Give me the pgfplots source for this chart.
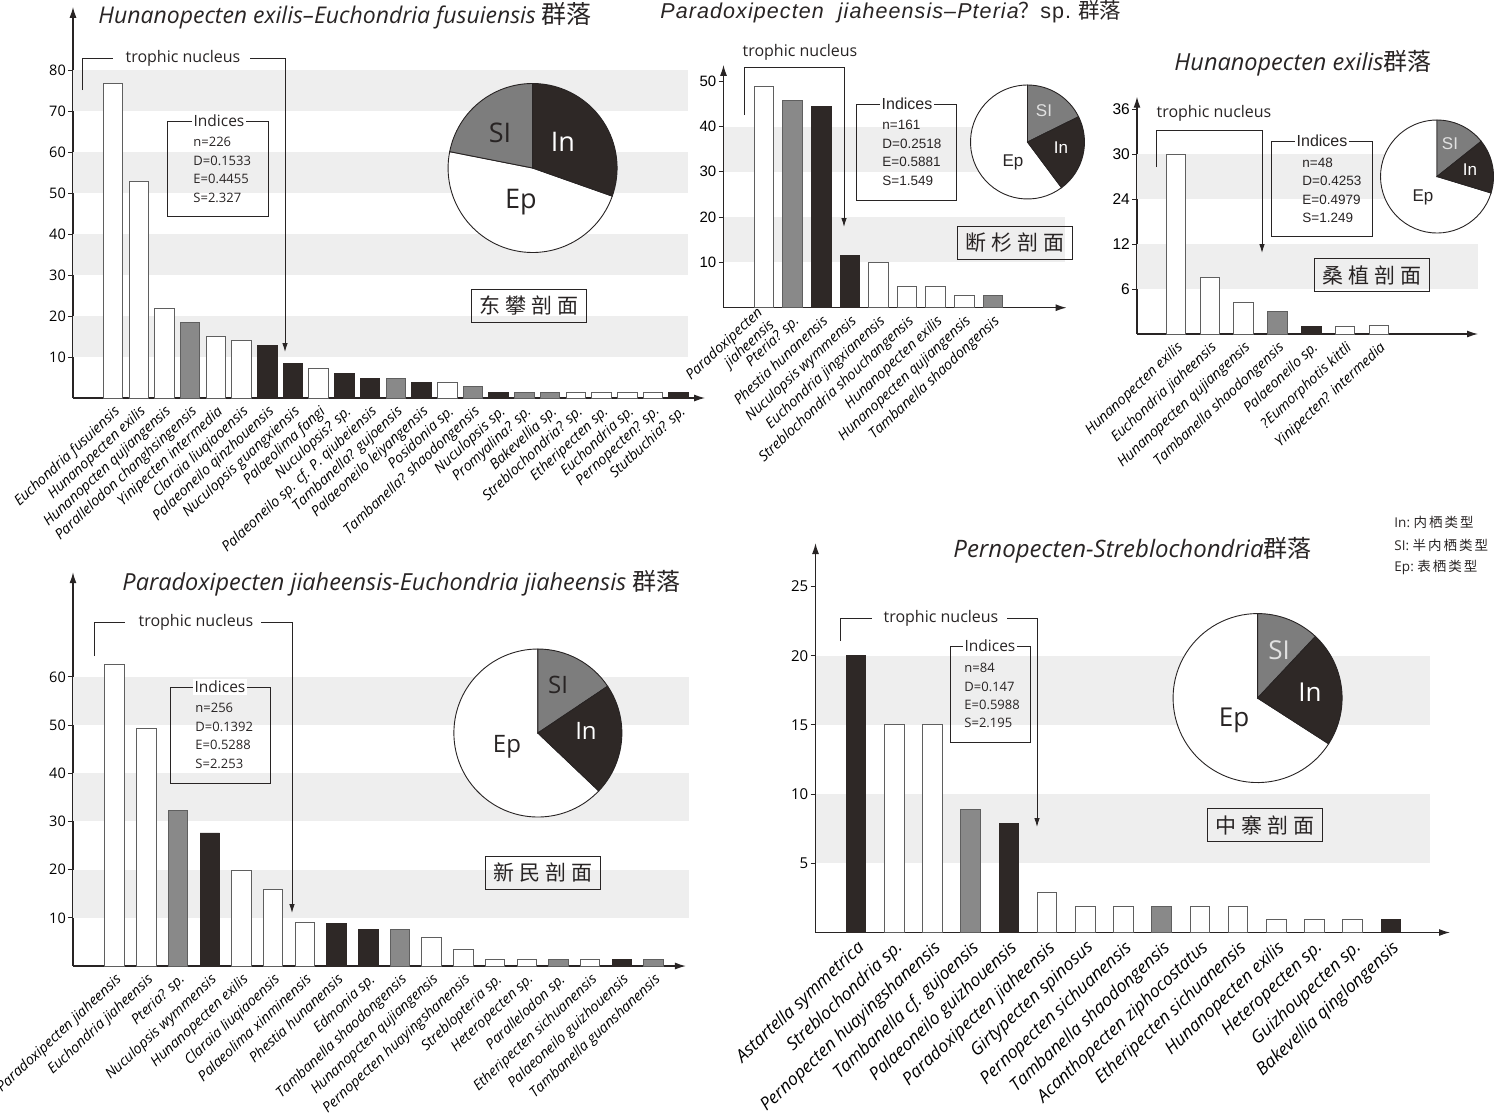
\documentclass[border=0pt]{standalone}
\usepackage{fontspec}
\setmainfont{Open Sans}
\newfontfamily\lib{Liberation Sans}
\newfontfamily\libsp{Liberation Sans}[LetterSpace=5]
\newfontfamily\cjk{Noto Sans CJK SC}
\usepackage{pgfplots}
\pgfplotsset{compat=1.18}
\usetikzlibrary{arrows.meta}

\definecolor{band}{RGB}{238,238,238}
\definecolor{bgray}{RGB}{137,137,137}
\definecolor{bblack}{RGB}{46,40,38}
\definecolor{pgray}{RGB}{125,125,125}
\definecolor{lineblk}{RGB}{40,36,36}
\definecolor{edge}{RGB}{95,95,95}
\definecolor{silight}{RGB}{225,225,225}

\newcommand{\fs}[1]{\fontsize{#1}{#1}\selectfont}
% pie slice: centre, radius, start angle, end angle, fill
\newcommand{\slice}[5]{\filldraw[fill=#5, draw=lineblk, line width=0.9pt] #1 -- ++({#3}:#2) arc[start angle={#3}, end angle={#4}, radius=#2] -- cycle;}
% SI then In clockwise from 12 o'clock
\newcommand{\pieA}[4]{%
  \slice{#1}{#2}{90-3.6*(#3+#4)}{-270}{white}
  \slice{#1}{#2}{90}{90-3.6*(#3)}{pgray}
  \slice{#1}{#2}{90-3.6*(#3)}{90-3.6*(#3+#4)}{bblack}}
% SI counter-clockwise, In clockwise from 12 o'clock
\newcommand{\pieB}[4]{%
  \slice{#1}{#2}{90+3.6*(#3)}{450-3.6*(#4)}{white}
  \slice{#1}{#2}{90}{90+3.6*(#3)}{pgray}
  \slice{#1}{#2}{90}{90-3.6*(#4)}{bblack}}

\pgfplotsset{
  panel/.style={
    anchor=south west, clip=false, ymin=0,
    axis lines*=left,
    axis line style={line width=1.2pt, draw=lineblk, -{Latex[length=11pt,width=7pt]}},
    tick align=outside, major tick length=5pt,
    ytick style={line width=0.9pt, draw=lineblk},
    xtick style={draw=none},
    /pgf/number format/assume math mode=true,
    xticklabel style={rotate=43, anchor=north east, inner sep=1pt, font=\itshape\fs{14.3}},
    yticklabel style={inner sep=2pt},
  },
  wbar/.style={ybar, bar shift=0pt, bar width=19.5pt, fill=white, draw=edge, line width=0.9pt},
  gbar/.style={ybar, bar shift=0pt, bar width=19.5pt, fill=bgray, draw=edge, line width=0.9pt},
  kbar/.style={ybar, bar shift=0pt, bar width=19.5pt, fill=bblack, draw=bblack, line width=0.9pt},
}

\begin{document}
\begin{tikzpicture}
\useasboundingbox (0pt,0pt) rectangle (1496pt,-1112pt);

% ---------- panel 1: Dongpan ----------
\begin{axis}[panel, at={(73pt,-398pt)},
  x=25.71pt, y=4.1pt, xmin=-0.556, xmax=24.03, ymax=95.4,
  ytick={10,20,...,80}, yticklabel style={font=\fs{14.5}},
  xtick={1,...,23},
  xticklabels={Euchondria fusuiensis, Hunanopecten exilis, Hunanopcten qujiangensis,
    Parallelodon changhsingensis, Yinipecten intermedia, Claraia liuqiaoensis,
    Palaeoneilo qinzhouensis, Nuculopsis guangxiensis, Palaeolima fangi, Nuculopsis? sp.,
    Palaeoneilo sp. cf. P. qiubeiensis, Tambanella? gujoensis, Palaeoneilo leiyangensis,
    Posidonia sp., Tambanella? shaodongensis, Nuculopsis sp., Promyalina? sp.,
    Bakevellia sp., Streblochondria? sp., Etheripecten sp., Euchondria sp.,
    Pernopecten? sp., Stutbuchia? sp.},
]
\fill[band] (axis cs:-0.556,10) rectangle (axis cs:23.37,20);
\fill[band] (axis cs:-0.556,30) rectangle (axis cs:23.37,40);
\fill[band] (axis cs:-0.556,50) rectangle (axis cs:23.37,60);
\fill[band] (axis cs:-0.556,70) rectangle (axis cs:23.37,80);
\addplot[wbar] coordinates {(1,76.8) (2,52.9) (3,21.9) (5,15.1) (6,14.1) (9,7.2) (14,3.8) (19,1.3) (20,1.3) (21,1.3) (22,1.3)};
\addplot[gbar] coordinates {(4,18.5) (12,4.8) (15,2.7) (17,1.3) (18,1.3)};
\addplot[kbar] coordinates {(7,12.8) (8,8.4) (10,6.0) (11,4.8) (13,3.8) (16,1.3) (23,1.3)};
\pieB{(axis cs:17.32,56.1)}{84.5pt}{21.9}{30.4}
\end{axis}

% ---------- panel 2: Duanshan ----------
\begin{axis}[panel, at={(723.5pt,-307.7pt)},
  x=28.6pt, y=4.53pt, xmin=-0.416, xmax=11.58, ymax=53.6,
  ytick={10,20,...,50}, yticklabel style={font=\lib\fs{15}},
  xtick={1,...,9},
  xticklabels={{\smash{\raisebox{-16pt}{\fontsize{14.3}{17}\selectfont\begin{tabular}[b]{@{}r@{}}Paradoxipecten\\jiaheensis\end{tabular}}}},
    Pteria? sp., Phestia hunanensis,
    Nuculopsis wymmensis, Euchondria jingxianensis, Streblochondria shouchangensis,
    Hunanopecten exilis, Hunanopecten qujiangensis, Tambanella shaodongensis},
]
\fill[band] (axis cs:-0.416,10) rectangle (axis cs:11.52,20);
\fill[band] (axis cs:-0.416,30) rectangle (axis cs:11.52,40);
\addplot[wbar] coordinates {(1,48.9) (5,10.0) (6,4.7) (7,4.7) (8,2.6)};
\addplot[gbar] coordinates {(2,45.7) (9,2.7)};
\addplot[kbar] coordinates {(3,44.5) (4,11.5)};
\pieA{(axis cs:10.213,36.58)}{57pt}{17.7}{22.1}
\end{axis}

% ---------- panel 3: Sangzhi (broken scale) ----------
\begin{axis}[panel, at={(1137pt,-334pt)},
  x=33.8pt, y=7.5pt, xmin=-0.154, xmax=9.935, ymax=31.64,
  y filter/.expression={y<=12 ? y : (y<=24 ? 12+(y-12)/2 : y-6)},
  ytick={6,12,18,24,30}, yticklabels={6,12,24,30,36},
  yticklabel style={font=\lib\fs{15.5}},
  xtick={1,...,7},
  xticklabels={Hunanopecten exilis, Euchondria jiaheensis, Hunanopecten qujiangensis,
    Tambanella shaodongensis, Palaeoneilo sp., ?Eumorphotis kittli, Yinipecten? intermedia},
]
\fill[band] (rel axis cs:0,0.1896) rectangle (rel axis cs:1,0.3793);
\fill[band] (rel axis cs:0,0.5689) rectangle (rel axis cs:1,0.7585);
\addplot[wbar] coordinates {(1,30) (2,7.6) (3,4.27) (6,1.02) (7,1.15)};
\addplot[gbar] coordinates {(4,2.98)};
\addplot[kbar] coordinates {(5,0.98)};
\pieA{(rel axis cs:0.8798,0.6637)}{56.5pt}{14.3}{15.4}
\end{axis}

% ---------- panel 4: Xinmin ----------
\begin{axis}[panel, at={(73pt,-966pt)},
  x=31.7pt, y=4.82pt, xmin=-0.315, xmax=19.02, ymax=81.7,
  ytick={10,20,...,60}, yticklabel style={font=\fs{14.5}},
  xtick={1,...,18},
  xticklabels={Paradoxipecten jiaheensis, Euchondria jiaheensis, Pteria? sp.,
    Nuculopsis wymmensis, Hunanopecten exilis, Claraia liuqiaoensis,
    Palaeolima xinminensis, Phestia hunanensis, Edmonia sp., Tambanella shaodongensis,
    Hunanopcten qujiangensis, Pernopecten huayingshanensis, Streblopteria sp.,
    Heteropecten sp., Parallelodon sp., Etheripecten sichuanensis,
    Palaeoneilo guizhouensis, Tambanella guanshanensis},
]
\fill[band] (axis cs:-0.315,10) rectangle (axis cs:19.12,20);
\fill[band] (axis cs:-0.315,30) rectangle (axis cs:19.12,40);
\fill[band] (axis cs:-0.315,50) rectangle (axis cs:19.12,60);
\addplot[wbar] coordinates {(1,62.6) (2,49.2) (5,19.8) (6,15.9) (7,9.0) (11,5.9) (12,3.4) (13,1.3) (14,1.3) (16,1.3)};
\addplot[gbar] coordinates {(3,32.2) (10,7.6) (15,1.3) (18,1.3)};
\addplot[kbar] coordinates {(4,27.6) (8,8.8) (9,7.6) (17,1.3)};
\pieA{(axis cs:14.35,48.34)}{84pt}{15.6}{21.5}
\end{axis}

% ---------- panel 5: Zhongzhai ----------
\begin{axis}[panel, at={(815.5pt,-932.5pt)},
  x=38.2pt, y=13.84pt, xmin=-0.06, xmax=16.55, ymax=28.14,
  ytick={5,10,...,25}, yticklabel style={font=\fs{15}},
  xtick={1,...,15},
  xticklabel style={font=\itshape\fs{17.5}},
  xticklabels={Astartella symmetrica, Streblochondria sp., Pernopecten huayingshanensis,
    Tambanella cf. gujoensis, Palaeoneilo guizhouensis, Paradoxipecten jiaheensis,
    Girtypecten spinosus, Pernopecten sichuanensis, Tambanella shaodongensis,
    Acanthopecten ziphocostatus, Etheripecten sichuanensis, Hunanopecten exilis,
    Heteropecten sp., Guizhoupecten sp., Bakevellia qinglongensis},
]
\fill[band] (axis cs:-0.06,5) rectangle (axis cs:16.03,10);
\fill[band] (axis cs:-0.06,15) rectangle (axis cs:16.03,20);
\addplot[wbar] coordinates {(2,15) (3,15) (6,2.9) (7,1.9) (8,1.9) (10,1.9) (11,1.9) (12,0.95) (13,0.95) (14,0.95)};
\addplot[gbar] coordinates {(4,8.9) (9,1.9)};
\addplot[kbar] coordinates {(1,20) (5,7.9) (15,0.95)};
\pieA{(axis cs:11.513,16.94)}{84.5pt}{12.0}{22.1}
\end{axis}

% ---------- annotations ----------
\begin{scope}[x=1pt, y=-1pt, color=lineblk, line width=0.9pt]
\tikzset{tn/.style={font=\fs{16}, inner sep=0pt},
  arr/.style={-{Latex[length=9pt,width=5.5pt]}},
  sect/.style={draw, line width=0.9pt, minimum width=115pt, minimum height=33pt, inner sep=0pt, font=\cjk\fs{21}}}

% titles
\node[anchor=west, inner sep=0, font=\fs{23}] at (98,16)
  {\itshape Hunanopecten exilis–Euchondria fusuiensis\ {\upshape\cjk\fs{25}群落}};
\node[anchor=west, inner sep=0, font=\libsp\fs{21.5}] at (660,12)
  {\itshape Paradoxipecten\ \ jiaheensis–Pteria{\upshape\cjk ？}\upshape sp.\ {\cjk 群落}};
\node[inner sep=0, font=\fs{23.5}] at (1303,63)
  {\itshape Hunanopecten exilis{\upshape\cjk\fs{24}群落}};
\node[anchor=west, inner sep=0, font=\fs{23.5}] at (122,583)
  {\itshape Paradoxipecten jiaheensis-Euchondria jiaheensis\ {\upshape\cjk\fs{24}群落}};
\node[anchor=west, inner sep=0, font=\fs{24}] at (953,550)
  {\itshape Pernopecten-Streblochondria{\upshape\cjk\fs{24}群落}};

% panel 1
\draw (82,90) -- (82,58) -- (113,58);
\node[tn] at (183,58) {trophic nucleus};
\draw[arr] (250,58) -- (285,58) -- (285,352);
\draw (167,121) rectangle (268,216);
\node[fill=white, inner sep=2pt, font=\fs{15.5}] at (219,121) {Indices};
\foreach \t [count=\i] in {n=226, D=0.1533, E=0.4455, S=2.327}
  \node[anchor=west, inner sep=0, font=\fs{13}] at (193,{142+18.6*(\i-1)}) {\t};
\node[sect] at (528.5,305.5) {东\kern5pt攀\kern5pt剖\kern5pt面};
\node[font=\fs{27}] at (500,133) {SI};
\node[font=\fs{27}, text=white] at (563,142) {In};
\node[font=\fs{27}] at (521,202) {Ep};

% panel 2
\node[tn] at (800,52) {trophic nucleus};
\draw[arr] (744,115) -- (744,67) -- (844,67) -- (844,227);
\draw (856,104) rectangle (956,200);
\node[fill=white, inner sep=2pt, font=\lib\fs{16}] at (907,104) {Indices};
\foreach \t [count=\i] in {n=161, D=0.2518, E=0.5881, S=1.549}
  \node[anchor=west, inner sep=0, font=\lib\fs{13.5}] at (882,{125+18.6*(\i-1)}) {\t};
\node[sect] at (1015,243) {断\kern5pt杉\kern5pt剖\kern5pt面};
\node[font=\lib\fs{17}, text=silight] at (1044,111) {SI};
\node[font=\lib\fs{17}, text=white] at (1061,148) {In};
\node[font=\lib\fs{17}] at (1013,162) {Ep};

% panel 3
\node[tn] at (1214,113) {trophic nucleus};
\draw[arr] (1156,167) -- (1156,130) -- (1262,130) -- (1262,253);
\draw (1271,141) rectangle (1372,236);
\node[fill=white, inner sep=2pt, font=\lib\fs{16}] at (1322,141) {Indices};
\foreach \t [count=\i] in {n=48, D=0.4253, E=0.4979, S=1.249}
  \node[anchor=west, inner sep=0, font=\lib\fs{13.5}] at (1302,{163+18.3*(\i-1)}) {\t};
\node[sect] at (1371.5,275) {桑\kern5pt植\kern5pt剖\kern5pt面};
\node[font=\lib\fs{17}, text=silight] at (1450,144) {SI};
\node[font=\lib\fs{17}, text=white] at (1470,170) {In};
\node[font=\lib\fs{17}] at (1423,197) {Ep};

% panel 4
\draw (94,656) -- (94,622) -- (125,622);
\node[tn] at (196,622) {trophic nucleus};
\draw[arr] (261,622) -- (292,622) -- (292,913);
\draw (170,687) rectangle (270,783);
\node[fill=white, inner sep=2pt, font=\fs{15.5}] at (220,687) {Indices};
\foreach \t [count=\i] in {n=256, D=0.1392, E=0.5288, S=2.253}
  \node[anchor=west, inner sep=0, font=\fs{13}] at (195,{708+18.6*(\i-1)}) {\t};
\node[sect] at (542.5,872.5) {新\kern5pt民\kern5pt剖\kern5pt面};
\node[font=\fs{24}] at (558,685) {SI};
\node[font=\fs{24}, text=white] at (586,731) {In};
\node[font=\fs{24}] at (507,747) {Ep};

% panel 5
\draw (840,641) -- (840,618) -- (872,618);
\node[tn] at (941,618) {trophic nucleus};
\draw[arr] (1007,618) -- (1037,618) -- (1037,827);
\draw (950,646) rectangle (1030,742);
\node[fill=white, inner sep=2pt, font=\fs{15.5}] at (990,646) {Indices};
\foreach \t [count=\i] in {n=84, D=0.147, E=0.5988, S=2.195}
  \node[anchor=west, inner sep=0, font=\fs{13}] at (964,{668+18.4*(\i-1)}) {\t};
\node[sect] at (1265,825) {中\kern5pt寨\kern5pt剖\kern5pt面};
\node[font=\fs{26}, text=silight] at (1279,650) {SI};
\node[font=\fs{26}, text=white] at (1310,692) {In};
\node[font=\fs{26}] at (1234,720) {Ep};

% key
\node[anchor=west, inner sep=0, font=\fs{13.5}] at (1394,522) {In:\ {\cjk 内\kern2pt栖\kern2pt类\kern2pt型}};
\node[anchor=west, inner sep=0, font=\fs{13.5}] at (1394,545) {SI:\ {\cjk 半\kern2pt内\kern2pt栖\kern2pt类\kern2pt型}};
\node[anchor=west, inner sep=0, font=\fs{13.5}] at (1394,567) {Ep:\ {\cjk 表\kern2pt栖\kern2pt类\kern2pt型}};
\end{scope}
\end{tikzpicture}
\end{document}
